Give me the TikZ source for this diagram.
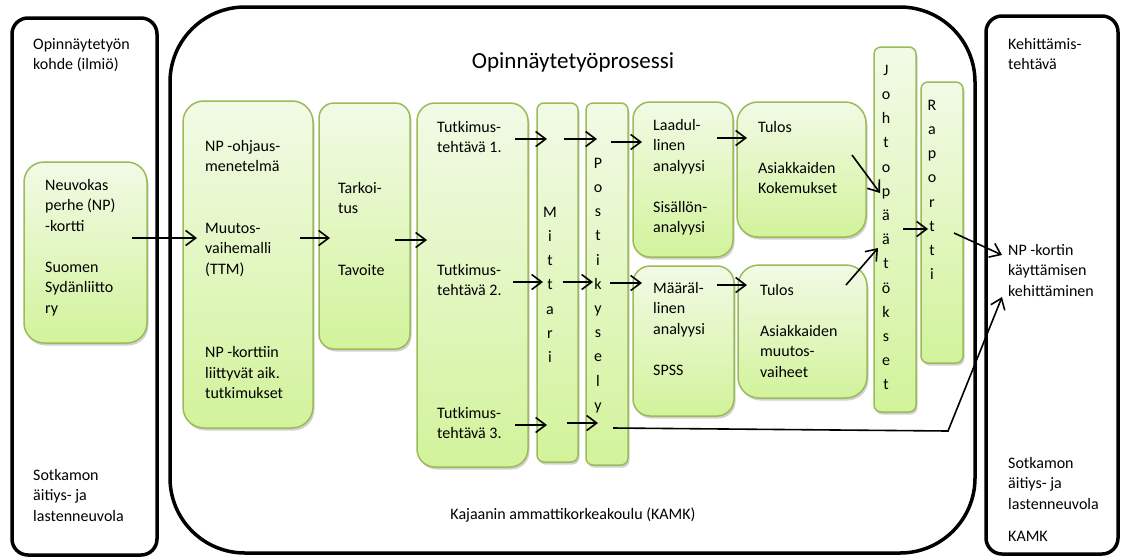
\documentclass[tikz,border=0pt]{standalone}
\usepackage{fontspec}
\setmainfont{Carlito}
\usetikzlibrary{arrows.meta,shadows}

\definecolor{boxline}{RGB}{155,187,89}
\definecolor{boxtop}{RGB}{242,250,230}
\definecolor{boxbot}{RGB}{210,243,155}
\newcommand{\tstrut}{\rule{0pt}{13pt}}

\tikzset{
  outerbox/.style={draw,line width=3.5pt,rounded corners=#1,inner sep=0pt},
  gbox/.style={draw=boxline,line width=1.5pt,rounded corners=#1,inner sep=0pt,
    top color=boxtop,bottom color=boxbot,
    drop shadow={shadow xshift=1.5pt,shadow yshift=-2.5pt,opacity=0.3,fill=black!60}},
  txt/.style={anchor=north west,inner sep=0pt,align=left,font=\fontsize{16}{20.5}\selectfont},
  col/.style={anchor=north,inner sep=0pt,align=center,font=\fontsize{16}{24.2}\selectfont},
  arr/.style={-{Straight Barb[length=10pt,width=15pt]},line width=1.6pt}
}

\begin{document}
\begin{tikzpicture}[x=1pt,y=-1pt]
    \useasboundingbox (0,0) rectangle (1124,558);

    % frames
    \node[outerbox=16pt,minimum width=145pt,minimum height=537pt] (kohde) at (84.5,286.5) {};
    \node[outerbox=75pt,minimum width=805pt,minimum height=546pt] (prosessi) at (572.5,280) {};
    \node[outerbox=16pt,minimum width=132pt,minimum height=538pt] (kehitys) at (1052,285) {};

    % green boxes
    \node[gbox=20pt,minimum width=123pt,minimum height=181pt] (neuvokas) at (85.5,252.5) {};
    \node[gbox=21pt,minimum width=130pt,minimum height=327pt] (ohjaus) at (248,264.5) {};
    \node[gbox=15pt,minimum width=91pt,minimum height=246pt] (tarkoitus) at (364.5,226) {};
    \node[gbox=18pt,minimum width=111pt,minimum height=364pt] (tutkimus) at (472.5,285) {};
    \node[gbox=7pt,minimum width=41pt,minimum height=359pt] (mittari) at (557.5,282.5) {};
    \node[gbox=7pt,minimum width=42pt,minimum height=362pt] (posti) at (607,284) {};
    \node[gbox=17pt,minimum width=100pt,minimum height=155pt] (laadul) at (683,179.5) {};
    \node[gbox=17pt,minimum width=101pt,minimum height=150pt] (maaral) at (683.5,341) {};
    \node[gbox=21pt,minimum width=129pt,minimum height=135pt] (tulos1) at (801.5,169.5) {};
    \node[gbox=21pt,minimum width=129pt,minimum height=133pt] (tulos2) at (802.5,331.5) {};
    \node[gbox=7pt,minimum width=42pt,minimum height=365pt] (johto) at (895,229.5) {};
    \node[gbox=7pt,minimum width=42pt,minimum height=281pt] (raportti) at (942,222.5) {};

    % texts
    \node[anchor=center,inner sep=0pt,font=\fontsize{23}{28}\selectfont] (otsikko) at (573,62) {Opinnäytetyöprosessi};
    \node[anchor=center,inner sep=0pt,font=\fontsize{16}{20}\selectfont] (kamk) at (573,515) {Kajaanin ammattikorkeakoulu (KAMK)};
    \node[txt] (kohdetxt) at (33,36) {\tstrut Opinnäytetyön\\kohde (ilmiö)};
    \node[txt] (sotL) at (33,467) {\tstrut Sotkamon\\äitiys- ja\\lastenneuvola};
    \node[txt] (neuvtxt) at (45,177) {\tstrut Neuvokas\\perhe (NP)\\-kortti\\[20.5pt]Suomen\\Sydänliitto\\ry};
    \node[txt] (ohjtxt) at (205,138) {\tstrut NP -ohjaus-\\menetelmä\\[41pt]Muutos-\\vaihemalli\\(TTM)\\[63pt]NP -korttiin\\liittyvät aik.\\tutkimukset};
    \node[txt] (tarktxt) at (338,180) {\tstrut Tarkoi-\\tus\\[41pt]Tavoite};
    \node[txt] (tt1) at (437,119) {\tstrut Tutkimus-\\tehtävä 1.};
    \node[txt] (tt2) at (437,262) {\tstrut Tutkimus-\\tehtävä 2.};
    \node[txt] (tt3) at (437,405) {\tstrut Tutkimus-\\tehtävä 3.};
    \node[col] (mittxt) at (550,204) {\tstrut M\\i\\t\\t\\a\\r\\i};
    \node[col] (postxt) at (598,155) {\tstrut P\\o\\s\\t\\i\\k\\y\\s\\e\\l\\y};
    \node[txt] (laadtxt) at (653,117) {\tstrut Laadul-\\linen\\analyysi\\[20.5pt]Sisällön-\\analyysi};
    \node[txt] (maartxt) at (653,280) {\tstrut Määräl-\\linen\\analyysi\\[20.5pt]SPSS};
    \node[txt] (tul1txt) at (758,119) {\tstrut Tulos\\[20.5pt]Asiakkaiden\\Kokemukset};
    \node[txt] (tul2txt) at (760,282) {\tstrut Tulos\\[20.5pt]Asiakkaiden\\muutos-\\vaiheet};
    \node[col] (johtxt) at (886,62) {\tstrut J\\o\\h\\t\\o\\p\\ä\\ä\\t\\ö\\k\\s\\e\\t};
    \node[col] (raptxt) at (932,97) {\tstrut R\\a\\p\\o\\r\\t\\t\\i};
    \node[txt] (kehtxt) at (1008,36) {\tstrut Kehittämis-\\tehtävä};
    \node[txt] (tavoite) at (1008,242) {\tstrut NP -kortin\\käyttämisen\\kehittäminen};
    \node[txt] (sotR) at (1008,455) {\tstrut Sotkamon\\äitiys- ja\\lastenneuvola\\[12pt]KAMK};

    % arrow ends
    \foreach \n/\x/\y in {a1/132/238,b1/197/238,a2/300/238,b2/330/238,a3/395/240,b3/427/240,
        r1a/515/139,r1b/547/139,r1c/564/139,r1d/597/139,r1e/611/142,r1f/642/142,
        r2a/513/282,r2b/543/282,r2c/563/282,r2d/593/282,r2e/610/283,r2f/642/283,
        r3a/515/425,r3b/547/425,r3c/567/423,r3d/598/423,r3e/613/428,r3k/948/431,
        l1a/717/138,l1b/747/138,l2a/717/285,l2b/747/285,
        d1a/852/155,d1b/880/193,d2a/846/285,d2b/878/248,
        j1a/903/229,j1b/928/229,k1a/954/233,k1b/1002/255,k2b/1002/297}
      \coordinate (\n) at (\x,\y);

    \draw[arr] (a1) -- (b1);
    \draw[arr] (a2) -- (b2);
    \draw[arr] (a3) -- (b3);
    \foreach \r in {r1,r2,r3} {
      \draw[arr] (\r a) -- (\r b);
      \draw[arr] (\r c) -- (\r d);
    }
    \draw[arr] (r1e) -- (r1f);
    \draw[arr] (r2e) -- (r2f);
    \draw[arr] (l1a) -- (l1b);
    \draw[arr] (l2a) -- (l2b);
    \draw[arr] (d1a) -- (d1b);
    \draw[arr] (d2a) -- (d2b);
    \draw[arr] (j1a) -- (j1b);
    \draw[arr] (k1a) -- (k1b);
    \draw[arr] (r3e) -- (r3k) -- (k2b);
\end{tikzpicture}
\end{document}
